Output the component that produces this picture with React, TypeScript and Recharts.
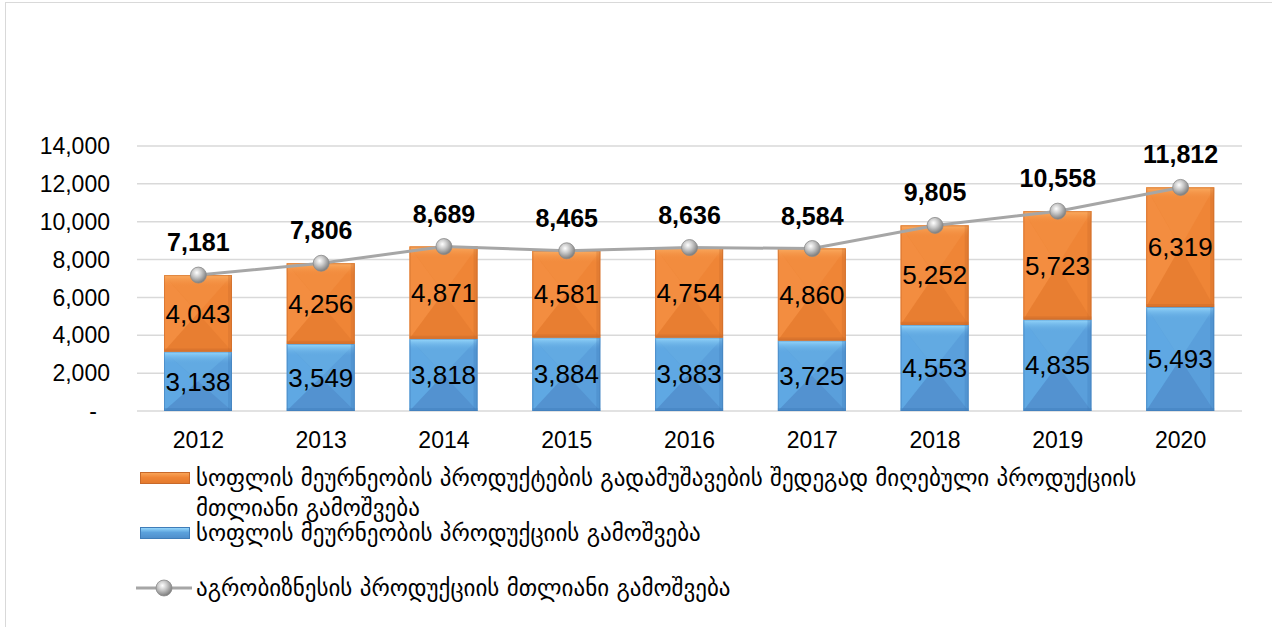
import { ComposedChart, Bar, Line, XAxis, YAxis, CartesianGrid, LabelList } from 'recharts';

const years = ['2012', '2013', '2014', '2015', '2016', '2017', '2018', '2019', '2020'];
const farmOutput = [3138, 3549, 3818, 3884, 3883, 3725, 4553, 4835, 5493];
const processedOutput = [4043, 4256, 4871, 4581, 4754, 4860, 5252, 5723, 6319];
const totalOutput = [7181, 7806, 8689, 8465, 8636, 8584, 9805, 10558, 11812];
const yTicks = [0, 2000, 4000, 6000, 8000, 10000, 12000, 14000];

const processedName = 'სოფლის მეურნეობის პროდუქტების გადამუშავების შედეგად მიღებული პროდუქციის მთლიანი გამოშვება';
const farmName = 'სოფლის მეურნეობის პროდუქციის გამოშვება';
const totalName = 'აგრობიზნესის პროდუქციის მთლიანი გამოშვება';

const data = years.map((year, i) => ({
  year,
  farm: farmOutput[i],
  processed: processedOutput[i],
  total: totalOutput[i],
}));

const FONT = '"Liberation Sans", Arial, sans-serif';
const GEO_FONT = '"DejaVu Sans", "Noto Sans", sans-serif';

const palettes = {
  orange: { base: '#ef8536', left: '#f38d40', top: '#f28c3e', bottom: '#e87e31', dark: '#c8692a' },
  blue: { base: '#5a9fdb', left: '#5fa8e3', top: '#62aae2', bottom: '#5392d0', dark: '#3f7cb8' },
};

const fmt = (v: number) => v.toLocaleString('en-US');

function bevelBar(kind: 'orange' | 'blue') {
  return (props: any) => {
    const { x, y, width, height } = props;
    if (!height || height <= 0) return <g />;
    const c = palettes[kind];
    const cx = x + width / 2;
    const cy = y + height / 2;
    const r = x + width;
    const b = y + height;
    const band = Math.min(12, height / 3);
    return (
      <g>
        <rect x={x} y={y} width={width} height={height} fill={c.base} />
        <polygon points={`${x},${y} ${x},${b} ${cx},${cy}`} fill={c.left} />
        <polygon points={`${x},${y} ${r},${y} ${cx},${cy}`} fill={c.top} />
        <polygon points={`${x},${b} ${r},${b} ${cx},${cy}`} fill={c.bottom} />
        <rect x={x} y={y} width={width} height={band} fill={`url(#topBand-${kind})`} />
        <rect x={r - 4} y={y} width={4} height={height} fill={c.dark} opacity={0.3} />
        <rect x={x} y={b - 3} width={width} height={3} fill={c.dark} opacity={0.4} />
        <rect x={x + 0.5} y={y + 0.5} width={width - 1} height={height - 1} fill="none" stroke={c.dark} strokeOpacity={0.55} strokeWidth={1} />
      </g>
    );
  };
}

const Ball = (props: any) => {
  const { cx, cy } = props;
  if (cx == null || cy == null) return <g />;
  return <circle cx={cx} cy={cy} r={8} fill="url(#ballGrad)" stroke="#8a8a8a" strokeWidth={0.8} />;
};

const YTick = (props: any) => {
  const { x, y, payload } = props;
  const zero = payload.value === 0;
  return (
    <text x={zero ? x - 13 : x} y={y} dy="0.355em" textAnchor="end" fontSize={23} fontFamily={FONT} fill="#000">
      {zero ? '-' : fmt(payload.value)}
    </text>
  );
};

const iconStyle = (kind: 'orange' | 'blue') => ({
  position: 'absolute' as const,
  left: 140,
  width: 50,
  height: 12,
  background: kind === 'orange'
    ? 'linear-gradient(#f9a357, #ef8536 45%, #e47a2d)'
    : 'linear-gradient(#93d5fb, #5ba1dc 45%, #4f8fcc)',
  border: `1px solid ${palettes[kind].dark}`,
  boxSizing: 'border-box' as const,
});

const textStyle = {
  position: 'absolute' as const,
  left: 196,
  fontFamily: GEO_FONT,
  fontSize: 23,
  lineHeight: '30px',
  color: '#000',
  whiteSpace: 'normal' as const,
};

export default function App() {
  return (
    <div style={{ position: 'absolute', left: 0, top: 0, width: 1272, height: 627, background: '#fff', overflow: 'hidden' }}>
      <div style={{ position: 'absolute', left: 5, top: 2, width: 1280, height: 640, border: '1px solid #d9d9d9', boxSizing: 'border-box' }} />
      <div style={{ position: 'absolute', left: 0, top: 0 }}>
        <ComposedChart width={1272} height={460} data={data} margin={{ top: 146, right: 30, bottom: 19, left: 37 }}>
          <defs>
            <radialGradient id="ballGrad" cx="40%" cy="35%" r="65%">
              <stop offset="0%" stopColor="#ffffff" />
              <stop offset="45%" stopColor="#c8c8c8" />
              <stop offset="100%" stopColor="#7d7d7d" />
            </radialGradient>
            <linearGradient id="topBand-orange" x1="0" y1="0" x2="0" y2="1">
              <stop offset="0%" stopColor="#fbad62" stopOpacity={1} />
              <stop offset="100%" stopColor="#f28c3e" stopOpacity={0} />
            </linearGradient>
            <linearGradient id="topBand-blue" x1="0" y1="0" x2="0" y2="1">
              <stop offset="0%" stopColor="#98d9fd" stopOpacity={1} />
              <stop offset="100%" stopColor="#62aae2" stopOpacity={0} />
            </linearGradient>
          </defs>
          <CartesianGrid vertical={false} stroke="#d9d9d9" strokeWidth={1.5} />
          <XAxis
            dataKey="year"
            axisLine={false}
            tickLine={false}
            tickSize={0}
            tickMargin={21}
            height={30}
            tick={{ fontSize: 23, fontFamily: FONT, fill: '#000' }}
            interval={0}
          />
          <YAxis
            domain={[0, 14000]}
            ticks={yTicks}
            width={100}
            axisLine={false}
            tickLine={false}
            tickSize={0}
            tickMargin={27}
            tick={<YTick />}
            interval={0}
          />
          <Bar dataKey="farm" stackId="a" barSize={68} shape={bevelBar('blue')} isAnimationActive={false}>
            <LabelList dataKey="farm" position="center" formatter={(v: any) => fmt(v)} style={{ fontSize: 26, fontFamily: FONT, fill: '#000' }} />
          </Bar>
          <Bar dataKey="processed" stackId="a" barSize={68} shape={bevelBar('orange')} isAnimationActive={false}>
            <LabelList dataKey="processed" position="center" formatter={(v: any) => fmt(v)} style={{ fontSize: 26, fontFamily: FONT, fill: '#000' }} />
          </Bar>
          <Line
            dataKey="total"
            stroke="#a6a6a6"
            strokeWidth={3}
            dot={<Ball />}
            activeDot={false}
            isAnimationActive={false}
          >
            <LabelList dataKey="total" position="top" offset={24} formatter={(v: any) => fmt(v)} style={{ fontSize: 25, fontWeight: 'bold', fontFamily: FONT, fill: '#000' }} />
          </Line>
        </ComposedChart>
      </div>

      <div style={{ ...iconStyle('orange'), top: 472 }} />
      <div style={{ ...textStyle, top: 463, width: 1000 }}>{processedName}</div>
      <div style={{ ...iconStyle('blue'), top: 527 }} />
      <div style={{ ...textStyle, top: 518 }}>{farmName}</div>
      <svg style={{ position: 'absolute', left: 136, top: 578 }} width={60} height={20}>
        <defs>
          <radialGradient id="ballGradLegend" cx="40%" cy="35%" r="65%">
            <stop offset="0%" stopColor="#ffffff" />
            <stop offset="45%" stopColor="#c8c8c8" />
            <stop offset="100%" stopColor="#7d7d7d" />
          </radialGradient>
        </defs>
        <line x1={0} y1={10} x2={56} y2={10} stroke="#a6a6a6" strokeWidth={3} />
        <circle cx={28} cy={10} r={8} fill="url(#ballGradLegend)" stroke="#8a8a8a" strokeWidth={0.8} />
      </svg>
      <div style={{ ...textStyle, top: 573 }}>{totalName}</div>
    </div>
  );
}
